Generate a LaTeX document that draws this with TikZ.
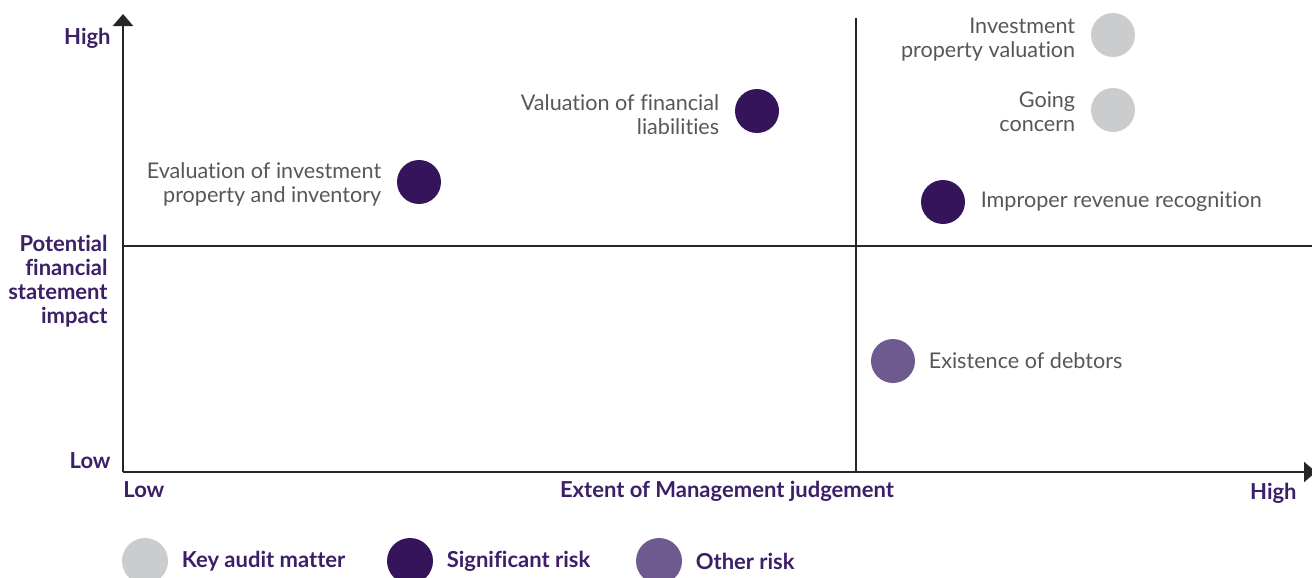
\documentclass[tikz,border=0pt]{standalone}
\usepackage{fontspec}
\setmainfont{Lato}[Ligatures=NoCommon]
\usepackage{tikz}
\usetikzlibrary{arrows.meta,positioning}

\definecolor{kamgrey}{HTML}{CBCCCE}
\definecolor{sigpurple}{HTML}{36145C}
\definecolor{otherpurple}{HTML}{6E5A8E}
\definecolor{labelpurple}{HTML}{3C1F68}
\definecolor{textgrey}{HTML}{575757}

\begin{document}
\begin{tikzpicture}[x=0.5pt,y=-0.5pt,node distance=7.5pt,
  axis/.style={line width=1.3pt,draw=black!85},
  kam node/.style={circle,fill=kamgrey,minimum size=22pt,inner sep=0pt},
  sig node/.style={circle,fill=sigpurple,minimum size=22pt,inner sep=0pt},
  other node/.style={circle,fill=otherpurple,minimum size=22pt,inner sep=0pt},
  risk text/.style={font=\fontsize{10.8}{12}\selectfont,text=textgrey,inner sep=0pt},
  axis label/.style={font=\fontsize{11}{12}\selectfont\bfseries,text=labelpurple,inner sep=0pt}]

  \useasboundingbox (0,0) rectangle (1312,578);

  % axes and quadrant lines
  \coordinate (origin) at (123,472);
  \coordinate (ytop) at (123,14);
  \coordinate (xend) at (1316,472);
  \coordinate (midleft) at (123,246);
  \coordinate (midright) at (1312,246);
  \coordinate (midtop) at (856,18);
  \coordinate (midbot) at (856,472);

  \draw[axis,-{Triangle[width=10pt,length=6pt]}] (origin) -- (ytop);
  \draw[axis,-{Triangle[width=10pt,length=6pt]}] (origin) -- (xend);
  \draw[axis] (midleft) -- (midright);
  \draw[axis] (midtop) -- (midbot);

  % axis labels
  \node[axis label,anchor=east] (yhigh) at (111,38) {High};
  \node[axis label,anchor=east,align=right] (ytitle) at (108,281)
    {Potential\\financial\\statement\\impact};
  \node[axis label,anchor=east] (ylow) at (111,461) {Low};
  \node[axis label,anchor=west] (xlow) at (123,490) {Low};
  \node[axis label] (xtitle) at (727,491) {Extent of Management judgement};
  \node[axis label,anchor=east] (xhigh) at (1297,493) {High};

  % risks
  \node[sig node] (eval) at (419,182) {};
  \node[risk text,align=right,left=of eval,yshift=-1pt] {Evaluation of investment\\property and inventory};

  \node[sig node] (liab) at (757,111) {};
  \node[risk text,align=right,left=of liab,yshift=-2pt] {Valuation of financial\\liabilities};

  \node[kam node] (ipv) at (1113,35) {};
  \node[risk text,align=right,left=of ipv,yshift=-2.5pt] {Investment\\property valuation};

  \node[kam node] (gc) at (1113,110) {};
  \node[risk text,align=right,left=of gc,yshift=-1pt] {Going\\concern};

  \node[sig node] (irr) at (943,202) {};
  \node[risk text,right=of irr] {Improper revenue recognition};

  \node[other node] (debt) at (893,361) {};
  \node[risk text,right=of debt,xshift=-1pt] {Existence of debtors};

  % legend
  \node[kam node,minimum size=23pt] (kamkey) at (145,561) {};
  \node[axis label,right=of kamkey,xshift=-1pt] {Key audit matter};
  \node[sig node,minimum size=23pt] (sigkey) at (410,561) {};
  \node[axis label,right=of sigkey,xshift=-1pt] {Significant risk};
  \node[other node,minimum size=23pt] (otherkey) at (659,561) {};
  \node[axis label,right=of otherkey,xshift=-1pt] {Other risk};

\end{tikzpicture}
\end{document}
